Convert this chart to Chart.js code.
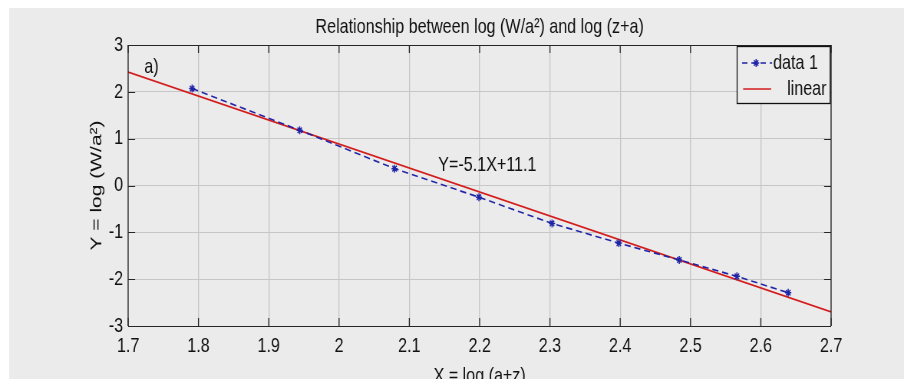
<!DOCTYPE html>
<html lang="en">
<head>
<meta charset="utf-8">
<title>Relationship between log (W/a2) and log (z+a)</title>
<script src="https://cdn.jsdelivr.net/npm/chart.js"></script>
<style>
  html, body { margin: 0; padding: 0; background: #fff; overflow: hidden; }
  #wrap { width: 904px; height: 379px; overflow: hidden; }
  /* the original figure is squeezed sideways, so draw wide and squeeze */
  #fitChart { display: block; transform: scaleX(0.7674); transform-origin: 0 0; }
</style>
</head>
<body>
<div id="wrap"><canvas id="fitChart" width="1178" height="389"></canvas></div>
<script>
// values
const xData = [1.791, 1.944, 2.079, 2.199, 2.303, 2.398, 2.484, 2.566, 2.639];
const yData = [2.07, 1.18, 0.36, -0.25, -0.81, -1.23, -1.59, -1.94, -2.29];
const fitX = [1.7, 2.7];
const fitY = [2.42, -2.70];
const xTicks = [1.7, 1.8, 1.9, 2, 2.1, 2.2, 2.3, 2.4, 2.5, 2.6, 2.7];
const yTicks = [-3, -2, -1, 0, 1, 2, 3];

const S = 0.7674;           // horizontal squeeze (matches the css above)
const FONT = "'Liberation Sans', Arial, sans-serif";
const FS = 21;
const BLUE = '#1f23a6';
const RED = '#d41c1c';
const BG = '#ebebeb';

const toPts = (xs, ys) => xs.map((x, i) => ({ x: x, y: ys[i] }));

// white strip + grey figure background
const backdrop = {
    id: 'backdrop',
    beforeDraw(chart) {
        const c = chart.ctx;
        c.save();
        c.fillStyle = '#ffffff';
        c.fillRect(0, 0, chart.width, chart.height);
        c.fillStyle = BG;
        c.fillRect(12, 8, chart.width - 12, chart.height - 8);
        c.restore();
    }
};

// matlab style box: inner ticks on all four sides, annotations, legend
const boxAndNotes = {
    id: 'boxAndNotes',
    afterDatasetsDraw(chart) {
        const c = chart.ctx;
        const a = chart.chartArea;
        const xs = chart.scales.x, ys = chart.scales.y;
        c.save();
        c.strokeStyle = '#262626';
        c.lineWidth = 1.3;
        c.beginPath();
        xTicks.forEach(v => {
            const px = xs.getPixelForValue(v);
            c.moveTo(px, a.bottom); c.lineTo(px, a.bottom - 8);
            c.moveTo(px, a.top); c.lineTo(px, a.top + 8);
        });
        c.stroke();
        c.lineWidth = 1;
        c.beginPath();
        yTicks.forEach(v => {
            const py = Math.round(ys.getPixelForValue(v)) + 0.5;
            c.moveTo(a.left, py); c.lineTo(a.left + 7 / S, py);
            c.moveTo(a.right, py); c.lineTo(a.right - 7 / S, py);
        });
        c.stroke();
        c.beginPath();
        c.moveTo(a.left, Math.round(a.top) + 0.5); c.lineTo(a.right, Math.round(a.top) + 0.5);
        c.moveTo(a.left, Math.round(a.bottom) + 0.5); c.lineTo(a.right, Math.round(a.bottom) + 0.5);
        c.stroke();
        c.lineWidth = 1.3;
        c.beginPath();
        c.moveTo(a.left, a.top); c.lineTo(a.left, a.bottom);
        c.moveTo(a.right, a.top); c.lineTo(a.right, a.bottom);
        c.stroke();

        // text annotations
        c.fillStyle = '#111';
        c.font = FS + 'px ' + FONT;
        c.textBaseline = 'middle';
        c.textAlign = 'left';
        c.fillText('a)', xs.getPixelForValue(1.723), ys.getPixelForValue(2.52));
        c.fillText('Y=-5.1X+11.1', xs.getPixelForValue(2.141), ys.getPixelForValue(0.43));

        // legend
        const lw = 93 / S, lh = 57;
        const lx = a.right - 94 / S, ly = a.top + 1;
        c.fillStyle = '#ececec';
        c.fillRect(lx, ly, lw, lh);
        c.strokeStyle = '#111';
        c.lineWidth = 1.3;
        c.strokeRect(lx, Math.round(ly) + 0.5, lw, lh);

        const ds = chart.data.datasets;
        // data 1 sample
        c.strokeStyle = BLUE;
        c.lineWidth = 1.5;
        c.setLineDash([7, 5]);
        c.beginPath();
        c.moveTo(lx + 5 / S, ly + 17); c.lineTo(lx + 35 / S, ly + 17);
        c.stroke();
        c.setLineDash([]);
        c.fillStyle = BLUE;
        Chart.helpers.drawPoint(c, { pointStyle: 'star', radius: 4, rotation: 0, borderWidth: 1.5 }, lx + 19 / S, ly + 17);
        c.fillStyle = '#111';
        c.fillText(ds[0].label, lx + 36 / S, ly + 17);
        // linear sample
        c.strokeStyle = RED;
        c.lineWidth = 1.6;
        c.beginPath();
        c.moveTo(lx + 6 / S, ly + 43); c.lineTo(lx + 34 / S, ly + 43);
        c.stroke();
        c.fillText(ds[1].label, lx + 50 / S, ly + 43);
        c.restore();
    }
};

const ctx = document.getElementById('fitChart').getContext('2d');
const fitChart = new Chart(ctx, {
    type: 'scatter',
    data: {
        datasets: [{
            label: 'data 1',
            data: toPts(xData, yData),
            showLine: true,
            borderColor: BLUE,
            backgroundColor: BLUE,
            borderWidth: 1.6,
            borderDash: [8, 5],
            pointStyle: 'star',
            pointRadius: 4,
            pointBorderWidth: 1.5,
            pointBorderColor: BLUE,
            order: 0
        }, {
            label: 'linear',
            data: toPts(fitX, fitY),
            showLine: true,
            borderColor: RED,
            backgroundColor: RED,
            borderWidth: 1.7,
            pointRadius: 0,
            order: 1
        }]
    },
    options: {
        responsive: false,
        animation: false,
        layout: { padding: { left: 12, top: 8, right: 95, bottom: 0 } },
        scales: {
            x: {
                type: 'linear',
                min: 1.7,
                max: 2.7,
                afterBuildTicks: s => { s.ticks = xTicks.map(v => ({ value: v })); },
                afterFit: s => { s.height = 389 - 326; },
                ticks: {
                    color: '#111',
                    padding: 8,
                    font: { family: FONT, size: FS },
                    callback: v => String(+v.toFixed(1))
                },
                grid: { color: '#c6c6c6', lineWidth: 1.3, drawTicks: false },
                border: { display: false },
                title: {
                    display: true,
                    text: 'X = log (a+z)',
                    color: '#111',
                    font: { family: FONT, size: FS },
                    padding: { top: 4, bottom: 0 }
                }
            },
            y: {
                type: 'linear',
                min: -3,
                max: 3,
                afterBuildTicks: s => { s.ticks = yTicks.map(v => ({ value: v })); },
                afterFit: s => { s.width = 167 - 12; },
                ticks: {
                    color: '#111',
                    padding: 6.5,
                    font: { family: FONT, size: FS }
                },
                grid: { color: '#c6c6c6', lineWidth: 1, drawTicks: false },
                border: { display: false },
                title: {
                    display: true,
                    text: 'Y = log (W/a²)',
                    color: '#111',
                    font: { family: FONT, size: FS },
                    padding: { top: 101.8, bottom: 0 }
                }
            }
        },
        plugins: {
            legend: { display: false },
            tooltip: { enabled: false },
            title: {
                display: true,
                fullSize: false,
                text: 'Relationship between log (W/a²) and log (z+a)',
                color: '#111',
                font: { family: FONT, size: FS, weight: 'normal' },
                padding: { top: 6.9, bottom: 4.9 }
            }
        }
    },
    plugins: [backdrop, boxAndNotes]
});
</script>
</body>
</html>
